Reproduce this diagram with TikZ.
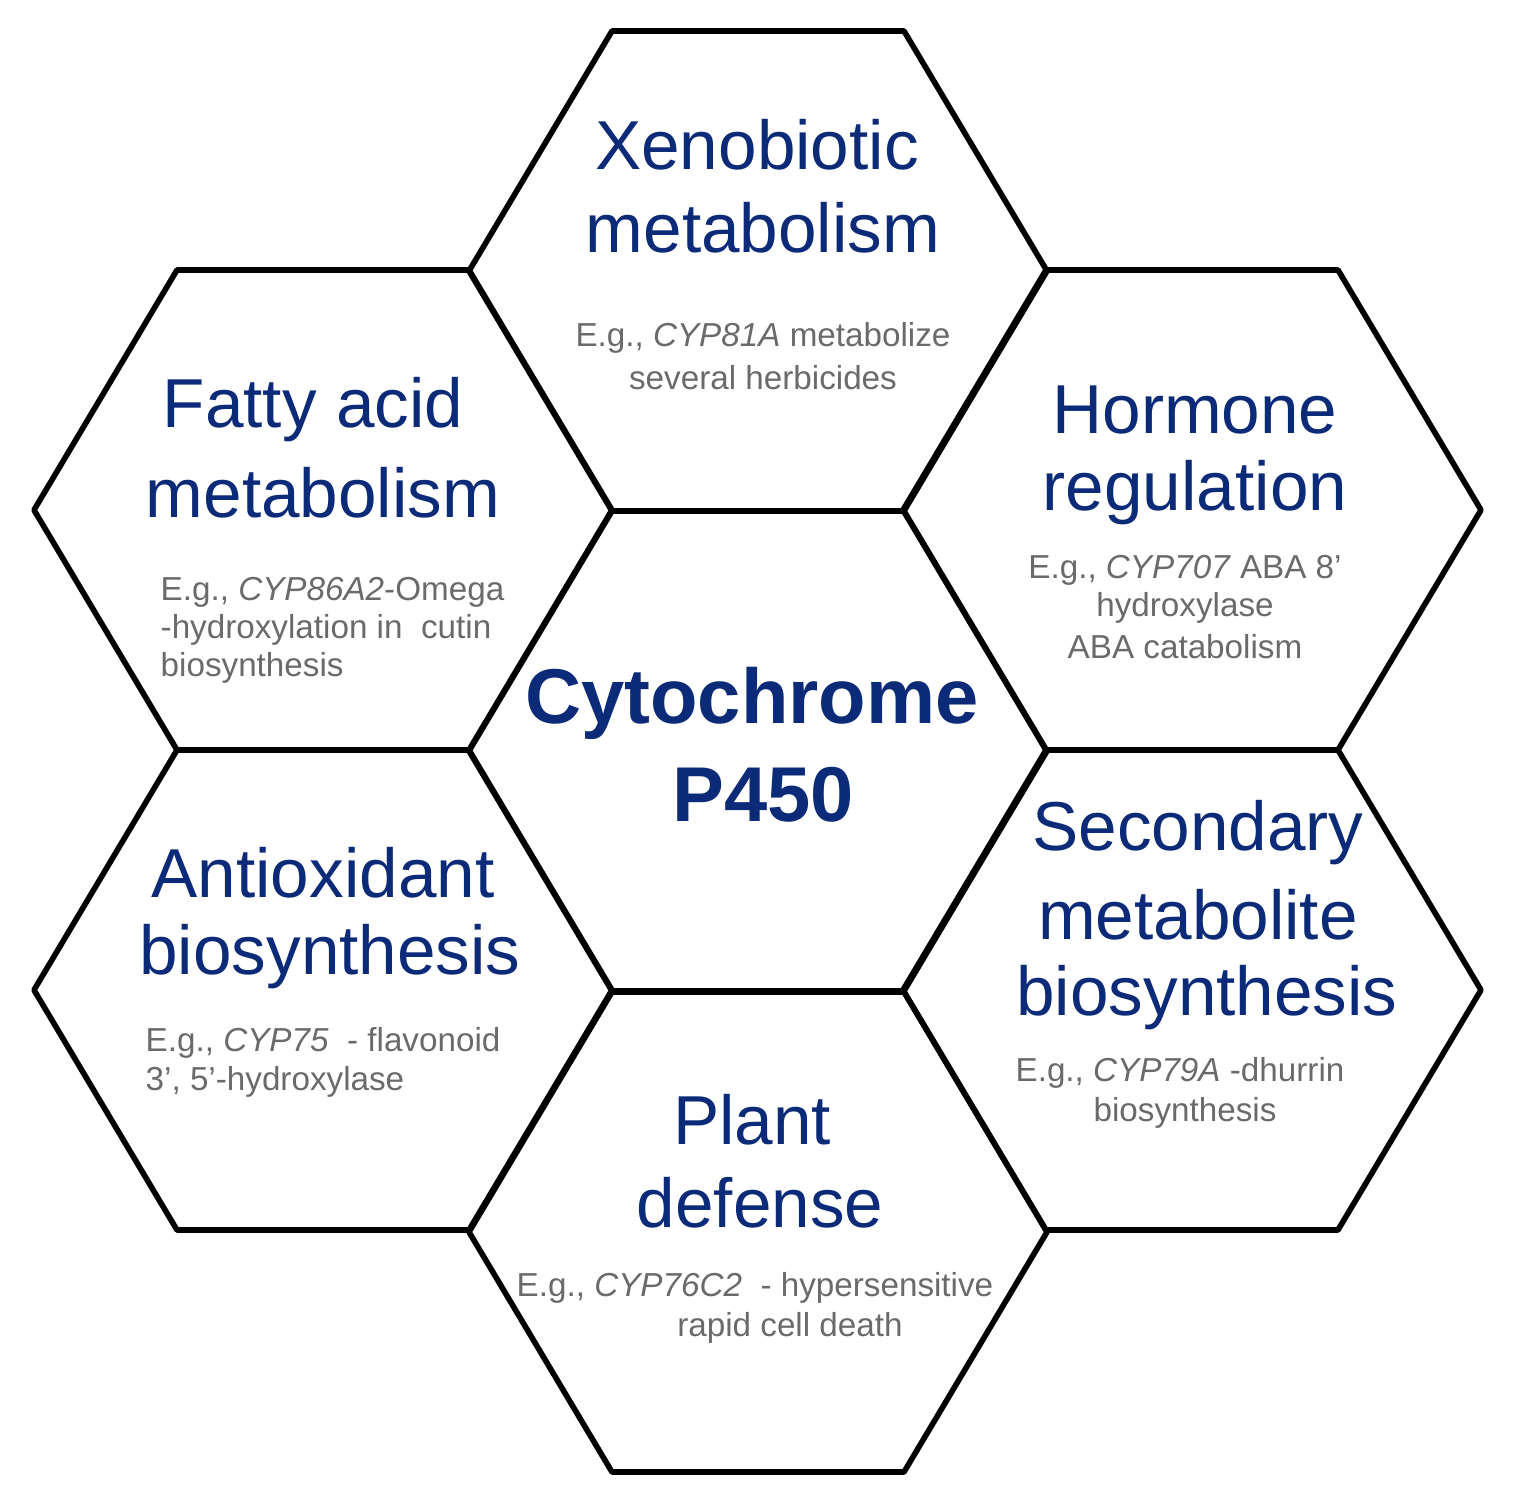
\documentclass[tikz,border=0pt]{standalone}
\usepackage{fontspec}
\setmainfont{Liberation Sans}
\definecolor{ttl}{HTML}{0B2A78}
\definecolor{sub}{HTML}{6A6A6A}
\begin{document}
\begin{tikzpicture}[x=0.01cm,y=-0.01cm,
  hex/.style={draw=black,line width=1.6pt,line join=round},
  ttlt/.style={text=ttl,font=\fontsize{19.7}{24}\selectfont,align=center,inner sep=0},
  subt/.style={text=sub,font=\fontsize{9.45}{11}\selectfont,inner sep=0}]
\useasboundingbox (0,0) rectangle (1526,1511);
\def\hexat#1#2{\draw[hex] (#1-146,#2-240) -- (#1+146,#2-240) -- (#1+289,#2) -- (#1+146,#2+240) -- (#1-146,#2+240) -- (#1-289,#2) -- cycle;}
\hexat{758}{271}
\hexat{323}{510}
\hexat{1192}{510}
\hexat{758}{751}
\hexat{323}{990}
\hexat{1192}{990}
\hexat{758}{1232}
% top
\node[ttlt] (x1) at (757,145) {Xenobiotic};
\node[ttlt] (x2) at (763,228) {metabolism};
\node[subt] (x3) at (763,338) {E.g., \textit{CYP81A} metabolize};
\node[subt] (x4) at (763,378) {several herbicides};
% fatty
\node[ttlt] (f1) at (313,410) {Fatty acid};
\node[ttlt] (f2) at (323,493) {metabolism};
\node[subt,anchor=west] (f3) at (160,592) {E.g., \textit{CYP86A2}-Omega};
\node[subt,anchor=west] (f4) at (160,630) {-hydroxylation in\ \ cutin};
\node[subt,anchor=west] (f5) at (160,668) {biosynthesis};
% hormone
\node[ttlt] (h1) at (1195,410) {Hormone};
\node[ttlt] (h2) at (1195,493) {regulation};
\node[subt] (h3) at (1185,570) {E.g., \textit{CYP707} ABA 8'};
\node[subt] (h4) at (1185,608) {hydroxylase};
\node[subt] (h5) at (1185,647) {ABA catabolism};
% center
\node[text=ttl,font=\fontsize{22.1}{27}\selectfont\bfseries,inner sep=0] (c1) at (752,703) {Cytochrome};
\node[text=ttl,font=\fontsize{22.1}{27}\selectfont\bfseries,inner sep=0] (c2) at (763,795) {P450};
% antioxidant
\node[ttlt] (a1) at (323,873) {Antioxidant};
\node[ttlt] (a2) at (330,957) {biosynthesis};
\node[subt,anchor=west] (a3) at (145,1043) {E.g., \textit{CYP75}\ \ - flavonoid};
\node[subt,anchor=west] (a4) at (145,1082) {3', 5'-hydroxylase};
% secondary
\node[ttlt] (s1) at (1198,833) {Secondary};
\node[ttlt] (s2) at (1198,915) {metabolite};
\node[ttlt] (s3) at (1207,998) {biosynthesis};
\node[subt] (s4) at (1180,1073) {E.g., \textit{CYP79A} -dhurrin};
\node[subt] (s5) at (1185,1113) {biosynthesis};
% plant defense
\node[ttlt] (p1) at (752,1120) {Plant};
\node[ttlt] (p2) at (760,1203) {defense};
\node[subt] (p3) at (755,1288) {E.g., \textit{CYP76C2}\ \ - hypersensitive};
\node[subt] (p4) at (790,1328) {rapid cell death};
\end{tikzpicture}
\end{document}
